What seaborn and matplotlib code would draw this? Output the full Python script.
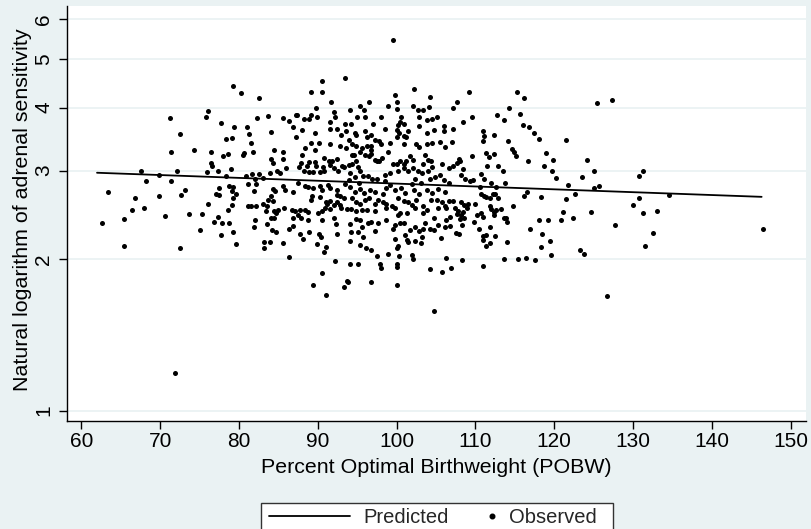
import numpy as np
import pandas as pd
import matplotlib
matplotlib.use("Agg")
import matplotlib.pyplot as plt
import seaborn as sns
from matplotlib.lines import Line2D
from matplotlib.patches import Rectangle
from matplotlib.legend_handler import HandlerBase
from matplotlib.ticker import NullLocator, FixedLocator

# ---------------- data ----------------
# left region (POBW < ~82)
pobw_left = [79.2, 80.2, 76.1, 75.8, 71.3, 77.7, 79.4, 81.0, 72.5, 81.3, 78.3, 79.1, 74.3, 71.4, 76.5,
             80.7, 80.5, 78.6, 78.0, 76.4, 76.6, 77.3, 79.0, 67.6, 72.2, 75.9, 69.8, 78.3, 80.9, 68.2,
             71.4, 63.4, 73.1, 72.6, 66.8, 69.9, 77.5, 77.1, 77.5, 78.8, 79.3, 79.1, 79.6, 79.2, 81.1,
             76.1, 68.0, 66.4, 78.6, 79.1, 81.1, 73.7, 75.3, 70.6, 77.3, 62.6, 65.4, 76.9, 77.9, 78.7,
             75.0, 79.3, 77.7, 79.6, 65.4, 72.5, 71.9]
sens_left = [4.41, 4.28, 3.94, 3.83, 3.82, 3.73, 3.67, 3.67, 3.55, 3.55, 3.47, 3.48, 3.29, 3.26, 3.27,
             3.25, 3.22, 3.23, 3.20, 3.11, 3.06, 3.00, 3.02, 3.00, 3.00, 2.98, 2.94, 2.93, 2.92, 2.86,
             2.86, 2.72, 2.74, 2.68, 2.65, 2.67, 2.77, 2.70, 2.68, 2.79, 2.78, 2.73, 2.70, 2.65, 2.82,
             2.57, 2.53, 2.50, 2.50, 2.56, 2.55, 2.46, 2.46, 2.44, 2.43, 2.36, 2.40, 2.37, 2.36, 2.36,
             2.29, 2.26, 2.23, 2.14, 2.12, 2.10, 1.19]

# isolated high / low values near the centre
pobw_extra = [99.6, 93.4, 90.5, 102.2, 104.7]
sens_extra = [5.45, 4.59, 4.51, 4.36, 1.58]

# POBW ~81-94, upper half
pobw_c1 = [82.5, 89.1, 90.5, 89.8, 91.7, 92.1, 92.2, 89.1, 89.9, 87.2, 87.4, 88.2, 88.9, 85.6, 86.3,
           83.7, 82.3, 91.5, 93.5, 86.8, 88.0, 89.7, 91.6, 92.5, 93.0, 93.6, 84.1, 87.2, 81.5, 89.1,
           90.1, 91.6, 92.8, 93.6, 88.4, 89.7, 84.4, 81.8, 85.6, 88.0, 85.6, 84.1, 88.9, 89.6, 90.8,
           91.4, 91.8, 92.5, 87.9, 84.3, 87.6, 88.6, 89.8, 90.7, 91.6, 92.1, 93.1, 93.3, 84.8, 86.0,
           84.0, 85.2, 88.3, 88.9, 89.4, 90.3, 90.8, 92.6, 81.7, 82.6, 82.0, 83.1, 82.2, 81.9, 84.3,
           84.6, 84.1, 85.6, 85.9, 86.9, 87.5, 88.4, 88.8, 89.4, 90.3, 90.6, 91.3, 91.6, 92.4, 92.8,
           93.5, 90.3, 89.3, 92.4]
sens_c1 = [4.19, 4.29, 4.29, 3.99, 4.10, 3.93, 3.84, 3.87, 3.84, 3.87, 3.87, 3.79, 3.79, 3.82, 3.76,
           3.85, 3.82, 3.75, 3.72, 3.67, 3.61, 3.57, 3.63, 3.63, 3.53, 3.59, 3.58, 3.49, 3.41, 3.41,
           3.41, 3.38, 3.35, 3.32, 3.32, 3.30, 3.29, 3.26, 3.26, 3.22, 3.17, 3.16, 3.12, 3.12, 3.18,
           3.14, 3.14, 3.17, 3.10, 3.10, 3.05, 3.06, 3.07, 3.05, 3.08, 3.03, 3.07, 3.05, 3.00, 3.03,
           2.97, 2.97, 3.00, 2.98, 2.98, 2.98, 2.99, 2.99, 2.95, 2.95, 2.89, 2.90, 2.82, 2.73, 2.76,
           2.73, 2.67, 2.79, 2.75, 2.72, 2.84, 2.79, 2.78, 2.77, 2.79, 2.75, 2.81, 2.77, 2.75, 2.67,
           2.82, 2.66, 2.67, 2.68]

# POBW ~81-94, lower half
pobw_c2 = [81.5, 82.2, 83.1, 83.5, 83.7, 84.3, 83.4, 84.4, 84.9, 84.7, 85.7, 84.1, 84.5, 82.1, 81.9,
           83.5, 84.2, 84.7, 83.2, 83.9, 83.2, 85.6, 86.3, 86.7, 87.1, 86.9, 86.4, 86.9, 87.5, 87.9,
           87.8, 88.4, 88.8, 88.8, 87.7, 88.1, 88.9, 90.5, 90.0, 90.6, 90.9, 91.6, 92.0, 92.4, 91.2,
           91.6, 92.8, 93.0, 92.1, 92.3, 93.7, 92.5, 90.2, 90.4, 89.9, 91.1, 90.8, 92.2, 90.5, 89.4,
           91.0, 93.3, 93.7, 89.2, 91.1, 93.3]
sens_c2 = [2.55, 2.55, 2.58, 2.55, 2.62, 2.61, 2.49, 2.49, 2.51, 2.47, 2.53, 2.42, 2.41, 2.39, 2.32,
           2.35, 2.29, 2.26, 2.16, 2.16, 2.10, 2.15, 2.02, 2.51, 2.49, 2.41, 2.30, 2.33, 2.45, 2.42,
           2.50, 2.51, 2.48, 2.39, 2.24, 2.19, 2.26, 2.39, 2.47, 2.49, 2.53, 2.52, 2.56, 2.60, 2.58,
           2.61, 2.56, 2.53, 2.41, 2.35, 2.52, 2.24, 2.24, 2.21, 2.14, 2.11, 2.07, 1.98, 1.88, 1.78,
           1.70, 1.76, 1.81, 2.62, 2.60, 2.64]

# POBW ~94-107, upper half
pobw_d1 = [99.8, 104.2, 100.0, 96.5, 95.4, 98.9, 100.1, 102.1, 104.1, 94.1, 95.9, 102.7, 103.3, 95.0, 96.0,
           98.0, 100.6, 102.8, 103.9, 104.5, 105.1, 100.4, 100.9, 100.2, 97.0, 94.2, 102.8, 106.0, 94.7, 94.9,
           96.0, 96.3, 96.8, 98.5, 100.0, 100.3, 100.1, 100.9, 101.2, 101.5, 103.9, 104.8, 106.0, 93.9, 94.3,
           94.9, 95.6, 95.4, 96.3, 96.8, 96.8, 97.3, 97.8, 98.0, 99.2, 98.9, 100.9, 102.4, 102.8, 103.8,
           104.5, 105.5, 106.1, 94.3, 94.6, 96.0, 96.5, 96.8, 97.2, 97.5, 97.8, 98.2, 101.7, 102.1, 103.6,
           104.0, 103.4, 104.4, 105.7, 106.6, 99.6, 100.1, 100.4, 101.0, 101.2, 100.9, 100.2, 101.5, 99.2, 98.5,
           102.1, 102.7, 103.2, 104.0, 104.5, 104.2, 104.9, 105.5, 106.0, 106.6, 102.3, 103.1, 101.9, 93.9, 94.4,
           94.9, 95.1, 95.4, 94.1, 94.7, 95.8, 96.4, 96.9, 97.5, 93.9, 95.2, 98.5, 99.2, 94.1, 94.7,
           95.4, 95.9, 96.6, 97.3, 98.3, 98.7, 99.8, 100.6, 101.1, 102.2, 102.9, 103.8, 104.5, 105.3, 106.1]
sens_d1 = [4.24, 4.21, 4.11, 4.10, 4.03, 4.03, 3.97, 4.03, 4.02, 3.96, 3.95, 3.96, 3.96, 3.83, 3.83,
           3.83, 3.83, 3.83, 3.78, 3.79, 3.83, 3.75, 3.72, 3.70, 3.72, 3.71, 3.68, 3.68, 3.57, 3.53,
           3.59, 3.50, 3.53, 3.62, 3.61, 3.56, 3.50, 3.51, 3.50, 3.59, 3.56, 3.61, 3.60, 3.45, 3.39,
           3.35, 3.32, 3.27, 3.36, 3.36, 3.30, 3.45, 3.44, 3.39, 3.40, 3.27, 3.39, 3.39, 3.34, 3.39,
           3.41, 3.42, 3.34, 3.22, 3.22, 3.22, 3.20, 3.24, 3.15, 3.14, 3.14, 3.18, 3.20, 3.15, 3.22,
           3.15, 3.09, 3.13, 3.09, 3.03, 3.09, 3.09, 3.14, 3.09, 3.14, 3.03, 3.00, 3.00, 2.97, 2.94,
           3.03, 3.00, 2.96, 3.00, 3.05, 2.88, 2.91, 2.94, 2.87, 2.84, 2.88, 2.84, 2.82, 3.08, 3.09,
           3.13, 3.05, 2.99, 2.97, 2.91, 2.93, 2.92, 2.88, 2.88, 2.87, 2.83, 2.86, 2.81, 2.78, 2.72,
           2.76, 2.71, 2.75, 2.72, 2.70, 2.77, 2.75, 2.77, 2.71, 2.75, 2.70, 2.75, 2.71, 2.76, 2.72]

# POBW ~94-107, lower half
pobw_d2 = [94.3, 94.9, 95.4, 96.0, 96.5, 97.3, 97.7, 98.3, 98.7, 99.4, 99.8, 100.2, 100.9, 101.4, 101.9,
           102.5, 103.3, 103.8, 104.4, 105.1, 105.7, 106.1, 106.6, 94.2, 94.8, 95.6, 96.2, 97.3, 98.7, 100.2,
           100.4, 101.3, 102.3, 103.4, 104.7, 105.3, 106.3, 94.9, 95.4, 96.4, 96.8, 97.6, 98.6, 94.1, 94.2,
           94.1, 95.6, 95.1, 95.8, 97.3, 99.6, 99.8, 100.4, 101.0, 101.7, 102.3, 102.8, 103.4, 103.6, 104.2,
           104.8, 105.3, 106.1, 106.3, 101.1, 101.3, 101.5, 99.8, 102.3, 103.2, 103.1, 105.6, 95.4, 96.1, 96.8,
           100.0, 100.2, 98.9, 97.5, 100.3, 101.9, 102.1, 106.3, 94.1, 95.1, 97.9, 98.0, 100.0, 100.1, 104.2,
           105.8, 93.8, 96.8, 100.0]
sens_d2 = [2.64, 2.60, 2.58, 2.62, 2.64, 2.58, 2.62, 2.60, 2.57, 2.55, 2.53, 2.64, 2.61, 2.60, 2.56,
           2.62, 2.55, 2.51, 2.62, 2.62, 2.60, 2.55, 2.61, 2.52, 2.49, 2.51, 2.50, 2.49, 2.53, 2.45,
           2.47, 2.47, 2.53, 2.47, 2.42, 2.53, 2.53, 2.40, 2.39, 2.36, 2.37, 2.36, 2.39, 2.35, 2.26,
           2.17, 2.32, 2.26, 2.21, 2.28, 2.30, 2.34, 2.36, 2.36, 2.29, 2.32, 2.27, 2.30, 2.36, 2.30,
           2.29, 2.34, 2.32, 2.39, 2.23, 2.18, 2.16, 2.19, 2.17, 2.21, 2.15, 2.20, 2.13, 2.10, 2.09,
           2.10, 2.12, 2.05, 2.03, 2.03, 2.04, 2.00, 2.01, 1.96, 1.96, 1.96, 1.92, 1.96, 1.93, 1.91,
           1.89, 1.80, 1.80, 1.78]

# POBW ~107-128
pobw_right = [109.2, 115.3, 116.1, 125.4, 127.3, 107.1, 107.7, 109.6, 114.3, 112.7, 113.6, 115.7, 116.0, 116.8, 117.4,
              118.0, 108.4, 107.1, 111.0, 111.1, 111.0, 107.0, 112.3, 114.1, 114.6, 114.9, 115.1, 121.5, 111.4, 111.7,
              112.3, 109.5, 116.7, 118.9, 119.9, 124.1, 107.9, 108.1, 107.7, 108.4, 107.2, 111.5, 112.8, 118.7, 119.7,
              125.0, 113.5, 120.2, 123.5, 108.2, 108.7, 109.3, 109.7, 110.7, 111.1, 112.0, 112.6, 113.8, 110.6, 110.7,
              111.1, 111.4, 111.8, 112.2, 112.5, 112.9, 114.7, 116.2, 116.5, 118.3, 121.7, 122.6, 125.0, 125.7, 121.5,
              107.2, 107.4, 107.8, 108.2, 108.5, 108.9, 108.4, 109.1, 107.6, 108.2, 108.5, 109.9, 110.2, 110.7, 110.9,
              111.8, 112.0, 112.3, 112.4, 112.6, 113.3, 113.6, 113.9, 114.0, 109.8, 106.8, 106.8, 108.0, 108.3, 107.5,
              107.9, 110.5, 110.9, 110.9, 111.4, 111.8, 112.5, 111.9, 111.4, 114.0, 116.9, 118.0, 119.2, 120.8, 121.1,
              122.4, 124.7, 127.7, 118.4, 118.3, 119.5, 119.6, 123.2, 123.8, 113.6, 115.4, 116.4, 117.6, 108.3, 106.9,
              110.9, 126.7]
sens_right = [4.30, 4.29, 4.18, 4.09, 4.14, 4.00, 4.11, 3.83, 4.00, 3.87, 3.78, 3.88, 3.70, 3.67, 3.57,
              3.47, 3.74, 3.63, 3.60, 3.51, 3.44, 3.42, 3.53, 3.43, 3.31, 3.26, 3.20, 3.45, 3.25, 3.19,
              3.23, 3.21, 3.14, 3.25, 3.15, 3.15, 3.17, 3.14, 3.10, 3.02, 3.07, 3.06, 3.06, 3.06, 3.00,
              3.00, 2.99, 2.90, 2.91, 2.94, 2.88, 2.86, 2.87, 2.95, 2.89, 2.84, 2.78, 2.83, 2.78, 2.70,
              2.67, 2.66, 2.64, 2.70, 2.70, 2.65, 2.55, 2.67, 2.72, 2.66, 2.81, 2.69, 2.77, 2.79, 2.63,
              2.61, 2.53, 2.49, 2.60, 2.56, 2.53, 2.48, 2.58, 2.46, 2.45, 2.42, 2.58, 2.45, 2.47, 2.43,
              2.55, 2.52, 2.48, 2.45, 2.50, 2.52, 2.41, 2.41, 2.37, 2.37, 2.43, 2.33, 2.40, 2.34, 2.25,
              2.24, 2.30, 2.18, 2.22, 2.23, 2.32, 2.22, 2.15, 2.12, 2.16, 2.30, 2.39, 2.39, 2.39, 2.48,
              2.41, 2.48, 2.34, 2.24, 2.11, 2.17, 2.04, 2.09, 2.05, 2.00, 2.00, 2.01, 1.99, 1.99, 1.92,
              1.94, 1.69]

# POBW > 129
pobw_far = [131.2, 130.7, 130.7, 130.0, 131.2, 133.0, 134.5, 132.5, 131.5, 146.5]
sens_far = [3.00, 2.92, 2.64, 2.56, 2.47, 2.49, 2.68, 2.25, 2.12, 2.30]

# fitted (predicted) line end points
pred_pobw = [62.0, 146.3]
pred_sens = [2.97, 2.66]

x_ticks = [60, 70, 80, 90, 100, 110, 120, 130, 140, 150]
y_ticks = [1, 2, 3, 4, 5, 6]
y_tick_labels = ["1", "2", "3", "4", "5", "6"]

obs = pd.DataFrame({
    "pobw": pobw_left + pobw_extra + pobw_c1 + pobw_c2 + pobw_d1 + pobw_d2 + pobw_right + pobw_far,
    "sens": sens_left + sens_extra + sens_c1 + sens_c2 + sens_d1 + sens_d2 + sens_right + sens_far,
})
pred = pd.DataFrame({"pobw": pred_pobw, "sens": pred_sens})

# ---------------- styling ----------------
sns.set_theme(style="white")
plt.rcParams["font.family"] = ["Liberation Sans", "DejaVu Sans"]

BG = "#EAF2F3"
W, H = 811, 529
fig = plt.figure(figsize=(W / 100, H / 100), dpi=100, facecolor=BG)
ax_left, ax_right, ax_top, ax_bottom = 67.3, 805.7, 6.0, 420.7
ax = fig.add_axes([ax_left / W, 1 - ax_bottom / H, (ax_right - ax_left) / W, (ax_bottom - ax_top) / H])
ax.set_facecolor("white")
ax.set_yscale("log")

sns.scatterplot(data=obs, x="pobw", y="sens", ax=ax, color="black", s=13,
                linewidth=0, legend=False, zorder=3)
sns.lineplot(data=pred, x="pobw", y="sens", ax=ax, color="black", linewidth=1.3,
             legend=False, zorder=4)

ax.set_xlim(58.23, 151.89)
ax.set_ylim(0.955, 6.37)
ax.xaxis.set_major_locator(FixedLocator(x_ticks))
ax.yaxis.set_major_locator(FixedLocator(y_ticks))
ax.yaxis.set_minor_locator(NullLocator())
ax.set_yticklabels(y_tick_labels)
ax.set_xticklabels([str(t) for t in x_ticks])

ax.grid(axis="y", color=BG, linewidth=1.3, zorder=0)
ax.grid(axis="x", visible=False)
ax.set_axisbelow(True)

for side in ["top", "right"]:
    ax.spines[side].set_visible(False)
for side in ["left", "bottom"]:
    ax.spines[side].set_color("black")
    ax.spines[side].set_linewidth(1.0)

ax.tick_params(axis="both", which="major", direction="out", length=6, width=1.0,
               color="black", labelsize=15, labelcolor="black", left=True, bottom=True)
ax.tick_params(axis="x", pad=2)
ax.tick_params(axis="y", labelrotation=90, pad=4)
for lab in ax.get_yticklabels():
    lab.set_verticalalignment("center")

ax.set_xlabel("Percent Optimal Birthweight (POBW)", fontsize=15.4, color="black")
ax.set_ylabel("Natural logarithm of adrenal sensitivity", fontsize=15.4, color="black")
ax.xaxis.set_label_coords(0.5, -0.089)
ax.yaxis.set_label_coords(-0.048, 0.51)


class DotAtEnd(HandlerBase):
    def create_artists(self, legend, orig_handle, xdescent, ydescent, width, height, fontsize, trans):
        dot = Line2D([width - xdescent - 0.15 * fontsize], [0.5 * height - ydescent],
                     marker="o", markersize=3.3, color="black", linestyle="none", transform=trans)
        return [dot]


# legend box (runs off the bottom edge of the picture, as in the reference)
box_l, box_r, box_t, box_b = 261, 613, 503, 548
fig.patches.append(Rectangle((box_l / W, 1 - box_b / H), (box_r - box_l) / W, (box_b - box_t) / H,
                             transform=fig.transFigure, facecolor="white", edgecolor="#333333",
                             linewidth=1.0, zorder=1))

line_handle = Line2D([], [], color="black", linewidth=1.3)
dot_handle = Line2D([], [], color="black", marker="o", linestyle="none", markersize=3.3)
leg = fig.legend([line_handle, dot_handle], ["Predicted", "Observed"],
                 loc="upper left", bbox_to_anchor=(261 / W, 1 - 500 / H), ncol=2,
                 handlelength=4.0, handletextpad=0.7, columnspacing=-1.7,
                 fontsize=14.5, frameon=False, borderpad=0.4, borderaxespad=0,
                 handler_map={dot_handle: DotAtEnd()})
leg.set_zorder(2)

fig.savefig("out.png", dpi=100, facecolor=BG)
